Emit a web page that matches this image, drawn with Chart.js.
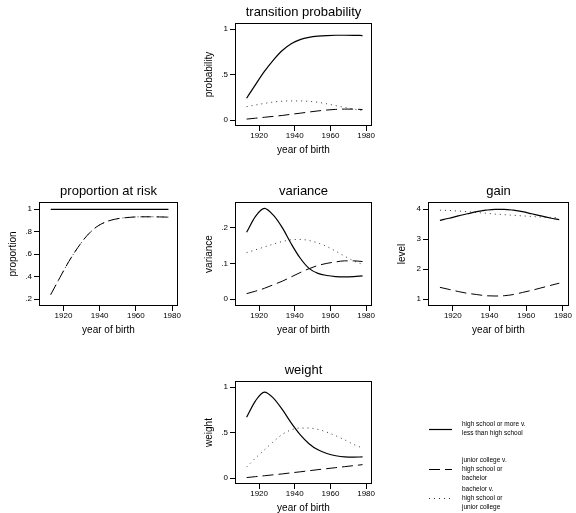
<!DOCTYPE html>
<html>
<head>
<meta charset="utf-8">
<script src="https://cdn.jsdelivr.net/npm/chart.js@4.4.1/dist/chart.umd.min.js"></script>
<style>
  html, body { margin: 0; padding: 0; background: #fff; overflow: hidden; }
  body { width: 576px; height: 513px; position: relative; }
  canvas { position: absolute; }
</style>
</head>
<body>
<canvas id="transChart"></canvas>
<canvas id="riskChart"></canvas>
<canvas id="varChart"></canvas>
<canvas id="gainChart"></canvas>
<canvas id="weightChart"></canvas>
<script>
// birth cohorts
const years = [1913, 1918, 1923, 1928, 1933, 1938, 1943, 1948, 1953, 1958, 1963, 1968, 1973, 1978];
const xTicks = [1920, 1940, 1960, 1980];

// share finishing high school (first transition), also the share at risk of later ones
const hsShare = [0.24, 0.39, 0.535, 0.66, 0.765, 0.84, 0.885, 0.91, 0.923, 0.93, 0.933, 0.933, 0.932, 0.93];
const transJC = [0.01, 0.02, 0.03, 0.04, 0.05, 0.063, 0.075, 0.088, 0.1, 0.11, 0.117, 0.12, 0.12, 0.115];
const transBA = [0.147, 0.165, 0.183, 0.198, 0.207, 0.21, 0.21, 0.205, 0.195, 0.178, 0.158, 0.138, 0.12, 0.105];

const riskHS = [1, 1, 1, 1, 1, 1, 1, 1, 1, 1, 1, 1, 1, 1];

const varHS = [0.187, 0.232, 0.254, 0.235, 0.2, 0.155, 0.115, 0.086, 0.072, 0.066, 0.063, 0.062, 0.063, 0.065];
const varJC = [0.015, 0.022, 0.03, 0.04, 0.05, 0.062, 0.074, 0.085, 0.094, 0.1, 0.104, 0.107, 0.107, 0.105];
const varBA = [0.13, 0.138, 0.146, 0.154, 0.161, 0.166, 0.167, 0.164, 0.157, 0.147, 0.134, 0.12, 0.107, 0.097];

const gainHS = [3.63, 3.7, 3.78, 3.85, 3.92, 3.97, 4.0, 4.0, 3.97, 3.92, 3.85, 3.78, 3.71, 3.65];
const gainJC = [1.39, 1.32, 1.25, 1.19, 1.15, 1.11, 1.1, 1.11, 1.15, 1.22, 1.29, 1.37, 1.45, 1.53];
const gainBA = [3.97, 3.96, 3.94, 3.92, 3.89, 3.87, 3.84, 3.82, 3.8, 3.78, 3.76, 3.74, 3.73, 3.72];

const weightHS = [0.67, 0.85, 0.945, 0.88, 0.755, 0.607, 0.478, 0.378, 0.31, 0.27, 0.245, 0.232, 0.23, 0.232];
const weightJC = [0.005, 0.015, 0.025, 0.035, 0.045, 0.057, 0.068, 0.08, 0.092, 0.103, 0.114, 0.125, 0.136, 0.147];
const weightBA = [0.12, 0.22, 0.31, 0.4, 0.48, 0.53, 0.55, 0.55, 0.535, 0.505, 0.465, 0.42, 0.37, 0.33];

const labelHS = 'high school or more v.\nless than high school';
const labelJC = 'junior college v.\nhigh school or\nbachelor';
const labelBA = 'bachelor v.\nhigh school or\njunior college';

const FONT = "'Liberation Sans', Arial, Helvetica, sans-serif";
Chart.defaults.font.family = FONT;
Chart.defaults.color = '#000';

const solid = { borderColor: '#000', borderWidth: 1.2, borderDash: [] };
const dashed = { borderColor: '#000', borderWidth: 1, borderDash: [11, 5] };
const dotted = { borderColor: '#333', borderWidth: 1, borderDash: [1, 4] };

// box around the plot region
const frame = {
  id: 'frame',
  afterDraw(chart) {
    const { ctx, chartArea: a } = chart;
    ctx.save();
    ctx.strokeStyle = '#000';
    ctx.lineWidth = 1;
    ctx.setLineDash([]);
    ctx.strokeRect(Math.round(a.left) + 0.5, Math.round(a.top) + 0.5,
      Math.round(a.right - a.left) - 1, Math.round(a.bottom - a.top) - 1);
    ctx.restore();
  }
};

// line-key legend with multi-line labels, placed right of the plot
const keyLegend = {
  id: 'keyLegend',
  afterDraw(chart, args, opts) {
    const { ctx, chartArea: a } = chart;
    ctx.save();
    ctx.font = opts.size + 'px ' + FONT;
    ctx.fillStyle = '#000';
    ctx.textBaseline = 'middle';
    ctx.textAlign = 'left';
    chart.data.datasets.forEach((ds, i) => {
      const cy = a.top + opts.offsets[i];
      const x0 = a.right + opts.gap;
      ctx.strokeStyle = ds.borderColor;
      ctx.lineWidth = ds.borderWidth;
      ctx.setLineDash(ds.borderDash);
      ctx.beginPath();
      ctx.moveTo(x0, cy + 0.5);
      ctx.lineTo(x0 + opts.sample, cy + 0.5);
      ctx.stroke();
      const lines = ds.label.split('\n');
      lines.forEach((t, j) => {
        ctx.fillText(t, x0 + opts.sample + opts.textGap, cy + (j - (lines.length - 1) / 2) * opts.lineH);
      });
    });
    ctx.restore();
  }
};

function fmtY(v) {
  if (v === 0) return '0';
  return String(v).replace(/^0\./, '.');
}

function axisGrid() {
  return { display: true, drawOnChartArea: false, drawTicks: true, tickLength: 5, color: '#000', lineWidth: 1 };
}

// box = [left, top, right, bottom] of the plot region on the page
function makePanel(id, box, title, yTitle, yMin, yMax, yTicks, series, padRight, extra) {
  const canvas = document.getElementById(id);
  const left = box[0] - 32;
  const top = box[1] - 20;
  const width = box[2] + padRight - left;
  const height = box[3] + 31 - top;
  canvas.width = width;
  canvas.height = height;
  canvas.style.left = left + 'px';
  canvas.style.top = top + 'px';
  canvas.style.width = width + 'px';
  canvas.style.height = height + 'px';

  const datasets = series.map(s => Object.assign({
    label: s.label,
    data: years.map((x, i) => ({ x: x, y: s.values[i] })),
    pointRadius: 0,
    fill: false,
    cubicInterpolationMode: 'monotone'
  }, s.style));

  const plugins = [frame];
  const pluginOpts = {
    legend: { display: false },
    tooltip: { enabled: false },
    title: {
      display: true, text: title, fullSize: false, color: '#000',
      font: { size: 13, weight: 'normal', lineHeight: '15px' },
      padding: { top: 2, bottom: 3 }
    }
  };
  if (extra) {
    plugins.push(keyLegend);
    pluginOpts.keyLegend = extra;
  }

  new Chart(canvas, {
    type: 'line',
    data: { datasets },
    plugins,
    options: {
      responsive: false,
      animation: false,
      devicePixelRatio: 1,
      layout: { padding: { left: 0, top: 0, right: padRight, bottom: 0 } },
      plugins: pluginOpts,
      scales: {
        x: {
          type: 'linear', min: 1906.5, max: 1983.3,
          afterBuildTicks: s => { s.ticks = xTicks.map(v => ({ value: v })); },
          afterFit: s => { s.height = 31; },
          ticks: { font: { size: 8 }, padding: 0, color: '#000', maxRotation: 0, autoSkip: false, callback: v => String(v) },
          grid: axisGrid(),
          border: { display: false },
          title: { display: true, text: 'year of birth', color: '#000', font: { size: 10 }, padding: { top: 0, bottom: 1 } }
        },
        y: {
          type: 'linear', min: yMin, max: yMax,
          afterBuildTicks: s => { s.ticks = yTicks.map(v => ({ value: v })); },
          afterFit: s => { s.width = 32; },
          ticks: { font: { size: 8 }, padding: 2, color: '#000', autoSkip: false, callback: v => fmtY(v) },
          grid: axisGrid(),
          border: { display: false },
          title: { display: true, text: yTitle, color: '#000', font: { size: 10 }, padding: { top: 0, bottom: 0 } }
        }
      }
    }
  });
}

makePanel('transChart', [235, 23, 372, 126], 'transition probability', 'probability',
  -0.066, 1.068, [0, 0.5, 1], [
    { label: labelHS, values: hsShare, style: solid },
    { label: labelJC, values: transJC, style: dashed },
    { label: labelBA, values: transBA, style: dotted }
  ], 12);

makePanel('riskChart', [39, 202, 178, 306], 'proportion at risk', 'proportion',
  0.1376, 1.065, [0.2, 0.4, 0.6, 0.8, 1], [
    { label: labelHS, values: riskHS, style: solid },
    { label: labelJC, values: hsShare, style: dashed },
    { label: labelBA, values: hsShare, style: dotted }
  ], 12);

makePanel('varChart', [235, 202, 372, 306], 'variance', 'variance',
  -0.0196, 0.272, [0, 0.1, 0.2], [
    { label: labelHS, values: varHS, style: solid },
    { label: labelJC, values: varJC, style: dashed },
    { label: labelBA, values: varBA, style: dotted }
  ], 12);

makePanel('gainChart', [428, 202, 569, 306], 'gain', 'level',
  0.766, 4.244, [1, 2, 3, 4], [
    { label: labelHS, values: gainHS, style: solid },
    { label: labelJC, values: gainJC, style: dashed },
    { label: labelBA, values: gainBA, style: dotted }
  ], 7);

makePanel('weightChart', [235, 381, 372, 484], 'weight', 'weight',
  -0.066, 1.068, [0, 0.5, 1], [
    { label: labelHS, values: weightHS, style: solid },
    { label: labelJC, values: weightJC, style: dashed },
    { label: labelBA, values: weightBA, style: dotted }
  ], 204, { gap: 57, sample: 23, textGap: 10, size: 6.5, lineH: 9, offsets: [48, 88, 117] });
</script>
</body>
</html>
